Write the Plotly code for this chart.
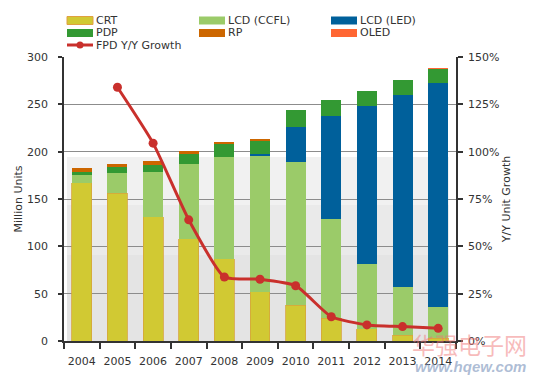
import plotly.graph_objects as go

# ---------------- data ----------------
years = ["2004", "2005", "2006", "2007", "2008", "2009", "2010", "2011", "2012", "2013", "2014"]
crt = [167, 156, 131, 108, 87, 52, 38, 24, 13, 6, 3]
lcd_ccfl = [8, 21, 47, 79, 107, 144, 151, 105, 68, 51, 33]
lcd_led = [0, 0, 0, 0, 0, 2, 37, 109, 167, 203, 237]
pdp = [3, 6.5, 8, 11, 14.5, 13.5, 18, 17, 16, 15.5, 14.5]
rp = [5, 4, 4.5, 2.5, 0.8, 1, 0, 0, 0, 0, 0]
oled = [0, 0, 0, 0, 0, 0, 0, 0, 0, 0, 0.8]
fpd_growth = [None, 1.34, 1.045, 0.64, 0.338, 0.326, 0.292, 0.128, 0.085, 0.076, 0.067]

left_ticks = [0, 50, 100, 150, 200, 250, 300]
right_ticks = [0, 0.25, 0.5, 0.75, 1.0, 1.25, 1.5]

series = [
    ("CRT", crt, "#d1c933"),
    ("LCD (CCFL)", lcd_ccfl, "#9bcb69"),
    ("LCD (LED)", lcd_led, "#00609b"),
    ("PDP", pdp, "#339933"),
    ("RP", rp, "#cc6600"),
    ("OLED", oled, "#ff6633"),
]
line_color = "#c9302c"

FONT = "DejaVu Sans"
TXT = "#333333"

fig = go.Figure()

for name, vals, col in series:
    fig.add_trace(go.Bar(
        x=years, y=vals, name=name, width=0.56,
        marker=dict(color=col,
                    line=dict(color="#d6a53c" if name == "CRT" else col,
                              width=0.8 if name == "CRT" else 0)),
        showlegend=False, yaxis="y",
    ))

fig.add_trace(go.Scatter(
    x=years, y=fpd_growth, name="FPD Y/Y Growth", yaxis="y2",
    mode="lines+markers",
    line=dict(color=line_color, width=3, shape="spline", smoothing=0.5),
    marker=dict(color=line_color, size=9),
    showlegend=False, connectgaps=False,
))

# ------------- layout geometry -------------
# page body has an 8px margin: figure drawn at window offset (8, 8)
OFF = 8
W, H = 536 - OFF, 381 - OFF
L, T = 64 - OFF, 57 - OFF
R = W - (456 - OFF)
B = H - (341 - OFF)
PW, PH = W - L - R, H - T - B


def px(x):  # window pixel -> paper
    return (x - OFF - L) / PW


def py(y):
    return (H - B - (y - OFF)) / PH


shapes = []
# gray background bands
for y0, y1, c in [(0, 90.8, "#e4e4e4"), (90.8, 143.7, "#eaeaea"), (143.7, 194.4, "#f1f1f1")]:
    shapes.append(dict(type="rect", xref="paper", yref="y", x0=px(67), x1=px(449),
                       y0=y0, y1=y1, fillcolor=c, line=dict(width=0), layer="below"))

annotations = []
# custom legend
legend_pos = [
    ("CRT", 67, 20.5), ("LCD (CCFL)", 199, 20.5), ("LCD (LED)", 331, 20.5),
    ("PDP", 67, 33), ("RP", 199, 33), ("OLED", 331, 33),
]
colmap = {n: c for n, _, c in series}
for name, x0, yc in legend_pos:
    shapes.append(dict(type="rect", xref="paper", yref="paper",
                       x0=px(x0), x1=px(x0 + 26), y0=py(yc + 4), y1=py(yc - 4),
                       fillcolor=colmap[name],
                       line=dict(width=1 if name == "CRT" else 0,
                                 color="#e0a040" if name == "CRT" else colmap[name])))
    annotations.append(dict(text=name, xref="paper", yref="paper", x=px(x0 + 28), y=py(yc),
                            xanchor="left", yanchor="middle", showarrow=False, borderpad=0,
                            font=dict(family=FONT, size=11, color=TXT)))
# line legend entry
shapes.append(dict(type="line", xref="paper", yref="paper", x0=px(67), x1=px(93),
                   y0=py(45), y1=py(45), line=dict(color=line_color, width=3)))
shapes.append(dict(type="circle", xref="paper", yref="paper", x0=px(76.5), x1=px(83.5),
                   y0=py(48.5), y1=py(41.5), fillcolor=line_color, line=dict(width=0)))
annotations.append(dict(text="FPD Y/Y Growth", xref="paper", yref="paper", x=px(95), y=py(45),
                        xanchor="left", yanchor="middle", showarrow=False, borderpad=0,
                        font=dict(family=FONT, size=11, color=TXT)))

# watermark
annotations.append(dict(text="华强电子网", xref="paper", yref="paper", x=px(469), y=py(344),
                        xanchor="center", yanchor="middle", showarrow=False, borderpad=0,
                        font=dict(family="Noto Sans CJK SC", size=23, color="rgba(240,120,120,0.5)")))
annotations.append(dict(text="<b><i>www.hqew.com</i></b>", xref="paper", yref="paper", x=px(470), y=py(366),
                        xanchor="center", yanchor="middle", showarrow=False, borderpad=0,
                        font=dict(family="Liberation Sans", size=15, color="rgba(120,145,185,0.6)")))

fig.update_layout(
    width=W, height=H,
    margin=dict(l=L, r=R, t=T, b=B, pad=0),
    paper_bgcolor="white", plot_bgcolor="white",
    barmode="stack", showlegend=False,
    font=dict(family=FONT, size=11, color=TXT),
    shapes=shapes, annotations=annotations,
    xaxis=dict(type="category", range=[-0.5, 10.5], tickson="boundaries", tickangle=0,
               ticks="outside", ticklen=6, tickcolor="#333", tickwidth=1.5,
               showline=True, linecolor="#333", linewidth=1.5, showgrid=False, automargin=False,
               tickfont=dict(family=FONT, size=11, color=TXT), ticklabelstandoff=9),
    yaxis=dict(range=[0, 300], tickvals=left_ticks, ticks="outside", ticklen=4,
               tickcolor="#333", tickwidth=1.5, automargin=False,
               showline=True, linecolor="#333", linewidth=1.5,
               showgrid=True, gridcolor="#8c8c8c", gridwidth=1, zeroline=False,
               title=dict(text="Million Units", font=dict(family=FONT, size=11, color=TXT), standoff=2),
               tickfont=dict(family=FONT, size=11, color=TXT), ticklabelstandoff=8),
    yaxis2=dict(range=[0, 1.5], tickvals=right_ticks, tickformat=".0%", overlaying="y", side="right",
                ticks="outside", ticklen=5, tickcolor="#333", tickwidth=1.5, automargin=False,
                showline=True, linecolor="#333", linewidth=1.5, showgrid=False, zeroline=False,
                title=dict(text="Y/Y Unit Growth", font=dict(family=FONT, size=11, color=TXT), standoff=4),
                tickfont=dict(family=FONT, size=11, color=TXT), ticklabelstandoff=3),
)

fig.write_html("out.html")
